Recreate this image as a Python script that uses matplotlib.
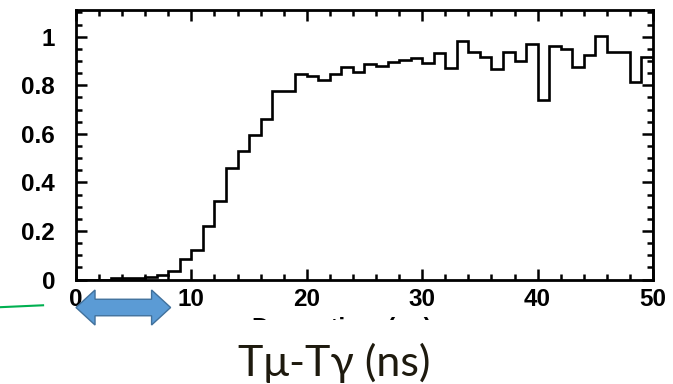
import numpy as np
import matplotlib
matplotlib.use('Agg')
import matplotlib.pyplot as plt
from matplotlib.patches import Polygon, Rectangle
from matplotlib.ticker import MultipleLocator
from matplotlib.transforms import blended_transform_factory

plt.rcParams['font.family'] = ['Liberation Sans', 'DejaVu Sans']

# 1 ns bins, 0..50 ns
bin_edges = np.arange(0, 51, 1)
efficiency = [0, 0, 0, 0.005, 0.005, 0.005, 0.01, 0.02, 0.037, 0.085,
              0.12, 0.22, 0.325, 0.46, 0.53, 0.597, 0.663, 0.775, 0.775, 0.848,
              0.84, 0.82, 0.845, 0.875, 0.853, 0.889, 0.881, 0.897, 0.905, 0.914,
              0.892, 0.933, 0.871, 0.984, 0.935, 0.916, 0.868, 0.938, 0.9, 0.971,
              0.741, 0.963, 0.949, 0.875, 0.925, 1.001, 0.935, 0.935, 0.813, 0.916]
x_ticks = [0, 10, 20, 30, 40, 50]
y_ticks = [0, 0.2, 0.4, 0.6, 0.8, 1.0]
y_labels = ["0", "0.2", "0.4", "0.6", "0.8", "1"]
arrow_span = (0.0, 8.2)   # the blue double arrow under the axis, in ns

fig = plt.figure(figsize=(6.73, 3.84), dpi=100)
ax = fig.add_axes([0.1129, 0.2721, 0.8574, 0.7019])

ax.stairs(efficiency, bin_edges, color="black", linewidth=1.9)
ax.set_xlim(0, 50)
ax.set_ylim(0, 1.11)

ax.set_xticks(x_ticks)
ax.set_xticklabels([str(t) for t in x_ticks])
ax.set_yticks(y_ticks)
ax.set_yticklabels(y_labels)
ax.xaxis.set_minor_locator(MultipleLocator(2))
ax.yaxis.set_minor_locator(MultipleLocator(0.05))
ax.tick_params(which="both", direction="in", top=True, right=True, width=1.8)
ax.tick_params(which="major", length=8)
ax.tick_params(which="minor", length=4)
ax.tick_params(axis="x", which="major", pad=6)
ax.tick_params(axis="y", which="major", pad=15)
for lab in ax.get_xticklabels() + ax.get_yticklabels():
    lab.set_fontsize(17.5)
    lab.set_fontweight("bold")
for sp in ax.spines.values():
    sp.set_linewidth(2.0)

# original axis title, mostly hidden by a white box
fig.text(0.3745, 0.175, "Decay time (ns)", fontsize=17.5, fontweight="bold",
         ha="left", va="top", zorder=1)
fig.patches.append(Rectangle((0.30, 0.0), 0.5, 0.166, transform=fig.transFigure,
                             facecolor="white", edgecolor="none", zorder=2))

# blue double arrow
tr = blended_transform_factory(ax.transData, fig.transFigure)
x0, x1 = arrow_span
yc, sh, hh, hl = 0.1992, 0.0215, 0.0456, 1.65
pts = [(x0, yc), (x0 + hl, yc + hh), (x0 + hl, yc + sh), (x1 - hl, yc + sh),
       (x1 - hl, yc + hh), (x1, yc), (x1 - hl, yc - hh), (x1 - hl, yc - sh),
       (x0 + hl, yc - sh), (x0 + hl, yc - hh)]
arrow = Polygon(pts, closed=True, transform=tr, facecolor="#5B9BD5",
                edgecolor="#41719C", linewidth=1.0, clip_on=False, zorder=5)
ax.add_patch(arrow)

# green line at the left edge
fig.add_artist(plt.Line2D([0.0, 0.064], [0.200, 0.205], color="#00B050",
                          linewidth=1.5, transform=fig.transFigure))

fig.text(0.4967, 0.021, "Tμ-Tγ (ns)", fontsize=31, family=["Lato", "DejaVu Sans"],
         color="#1E1A0E", ha="center", va="baseline", zorder=3)

fig.savefig("out.png", dpi=100)
plt.close(fig)
